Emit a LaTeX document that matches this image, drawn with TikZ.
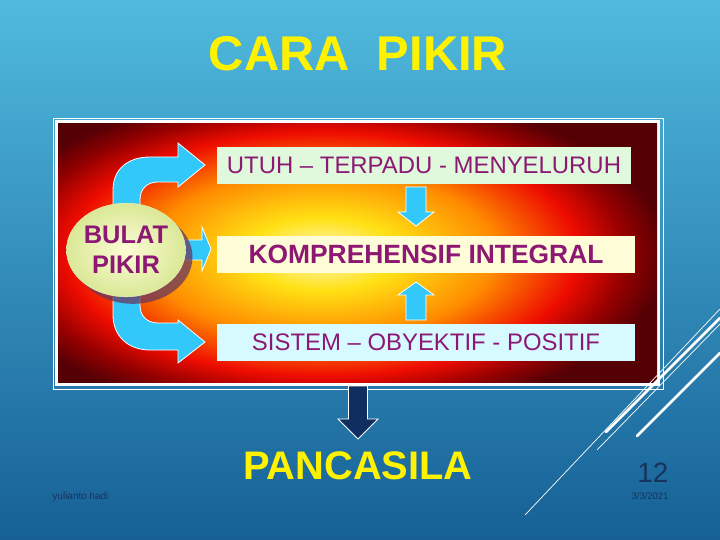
\documentclass[tikz,border=0pt]{standalone}
\usepackage{fontspec}
\setmainfont{Liberation Sans}
\usetikzlibrary{shapes.geometric,shadows}

\definecolor{bgtop}{RGB}{80,186,222}
\definecolor{bgbottom}{RGB}{22,96,150}
\definecolor{txtpurple}{RGB}{140,24,115}
\definecolor{arrowblue}{RGB}{51,200,250}
\definecolor{navyarrow}{RGB}{16,46,96}
\definecolor{mintfill}{RGB}{224,248,220}
\definecolor{creamfill}{RGB}{255,252,216}
\definecolor{cyanfill}{RGB}{214,250,255}
\definecolor{footblue}{RGB}{22,52,92}
\definecolor{ovalin}{RGB}{252,252,214}
\definecolor{ovalout}{RGB}{218,232,150}
\definecolor{ovalshadow}{RGB}{105,55,95}
\definecolor{glowa}{RGB}{255,248,200}
\definecolor{glowb}{RGB}{255,225,20}
\definecolor{glowc}{RGB}{255,140,0}
\definecolor{glowd}{RGB}{238,12,0}
\definecolor{glowe}{RGB}{150,0,0}
\definecolor{glowf}{RGB}{85,0,5}

\pgfdeclareradialshading{frameglow}{\pgfpoint{0bp}{0bp}}{%
  color(0bp)=(glowa); color(5.5bp)=(glowb); color(12.5bp)=(glowc);
  color(18.5bp)=(glowd); color(22bp)=(glowe); color(25bp)=(glowf); color(50bp)=(glowf)}

\tikzset{
  textbox/.style={inner sep=0, minimum height=37, text=txtpurple,
    font=\fontsize{24}{28}\selectfont},
  bulatoval/.style={ellipse, minimum width=108, minimum height=94, inner sep=0,
    align=center, inner color=ovalin, outer color=ovalout, draw=white!50!ovalout,
    text=txtpurple, font=\fontsize{25.5}{30}\selectfont\bfseries,
    drop shadow={shadow xshift=7pt, shadow yshift=-7pt, fill=ovalshadow, opacity=0.75}},
  bluearrow/.style={draw=white, line width=0.8, fill=arrowblue},
  navyarrowshape/.style={draw=white, line width=0.8, fill=navyarrow},
}

\begin{document}
\begin{tikzpicture}[x=1bp,y=-1bp]

    % background
    \useasboundingbox (0,0) rectangle (720,540);
    \shade[top color=bgtop, bottom color=bgbottom] (0,0) rectangle (720,540);

    % frame
    \draw[white, line width=0.8] (53,118) rectangle (663,389);
    \fill[white] (55,120) rectangle (660,386);
    \begin{scope}
        \clip (58,124) rectangle (657,382);
        \shade[shading=frameglow] (-23,89) rectangle (667,419);
    \end{scope}

    % paths
    \draw[bluearrow] (113,215) -- (113,190) .. controls (113,169) and (128,157) .. (150,157)
        -- (178,157) -- (178,143) -- (205,165) -- (178,187) -- (178,182) -- (158,182)
        .. controls (147,182) and (140,189) .. (140,200) -- (140,215) -- cycle; % bulat -> utuh
    \draw[bluearrow] (113,285) -- (113,315) .. controls (113,336) and (128,350) .. (150,350)
        -- (178,350) -- (178,363) -- (205,342) -- (178,320) -- (178,323) -- (158,323)
        .. controls (147,323) and (140,316) .. (140,305) -- (140,285) -- cycle; % bulat -> sistem
    \draw[bluearrow] (170,240) -- (202,240) -- (202,227) -- (211,249) -- (202,271)
        -- (202,260) -- (170,260) -- cycle; % bulat -> kompre

    % nodes
    \node[font=\fontsize{49}{58}\selectfont\bfseries, text=yellow, anchor=base] (title) at (358,71) {CARA\ \ PIKIR};
    \node[textbox, fill=mintfill, minimum width=416] (utuh) at (424,165.5) {UTUH – TERPADU - MENYELURUH};
    \node[textbox, fill=creamfill, minimum width=420, font=\fontsize{26.5}{30}\selectfont\bfseries] (kompre) at (426,254.5) {KOMPREHENSIF INTEGRAL};
    \node[textbox, fill=cyanfill, minimum width=420] (sistem) at (426,342.5) {SISTEM – OBYEKTIF - POSITIF};
    \node[bulatoval] (bulat) at (126,250) {BULAT\\PIKIR};

    % paths
    \draw[bluearrow] (406,187) -- (426,187) -- (426,212) -- (434,212) -- (416,226)
        -- (398,212) -- (406,212) -- cycle; % utuh -> kompre
    \draw[bluearrow] (406,320) -- (426,320) -- (426,295) -- (434,295) -- (416,282)
        -- (398,295) -- (406,295) -- cycle; % sistem -> kompre
    \draw[navyarrowshape] (348.5,386) -- (367.5,386) -- (367.5,419) -- (378,419) -- (358,439)
        -- (338,419) -- (348.5,419) -- cycle; % frame -> pancasila

    % extras
    % nodes
    \node[font=\fontsize{40}{46}\selectfont\bfseries, text=yellow, anchor=base] (pancasila) at (358,479) {PANCASILA};
    \node[font=\fontsize{10}{12}\selectfont, text=footblue, anchor=base west] (author) at (49,499) {yulianto hadi};
    \node[font=\fontsize{28}{32}\selectfont, text=footblue, anchor=base east] (page) at (672,482) {12};
    \node[font=\fontsize{9.5}{11}\selectfont, text=footblue, anchor=base east] (date) at (672,499) {3/3/2021};

    % paths
    \draw[white, line width=0.7] (525,515) -- (720,309); % long thin line
    \draw[white, line width=0.7] (597,450) -- (720,324); % thin line
    \draw[white, line width=2.6, line cap=round] (606,432) -- (720,318); % thick line
    \draw[white, line width=2.6, line cap=round] (637,436) -- (720,353); % thick line

\end{tikzpicture}
\end{document}
